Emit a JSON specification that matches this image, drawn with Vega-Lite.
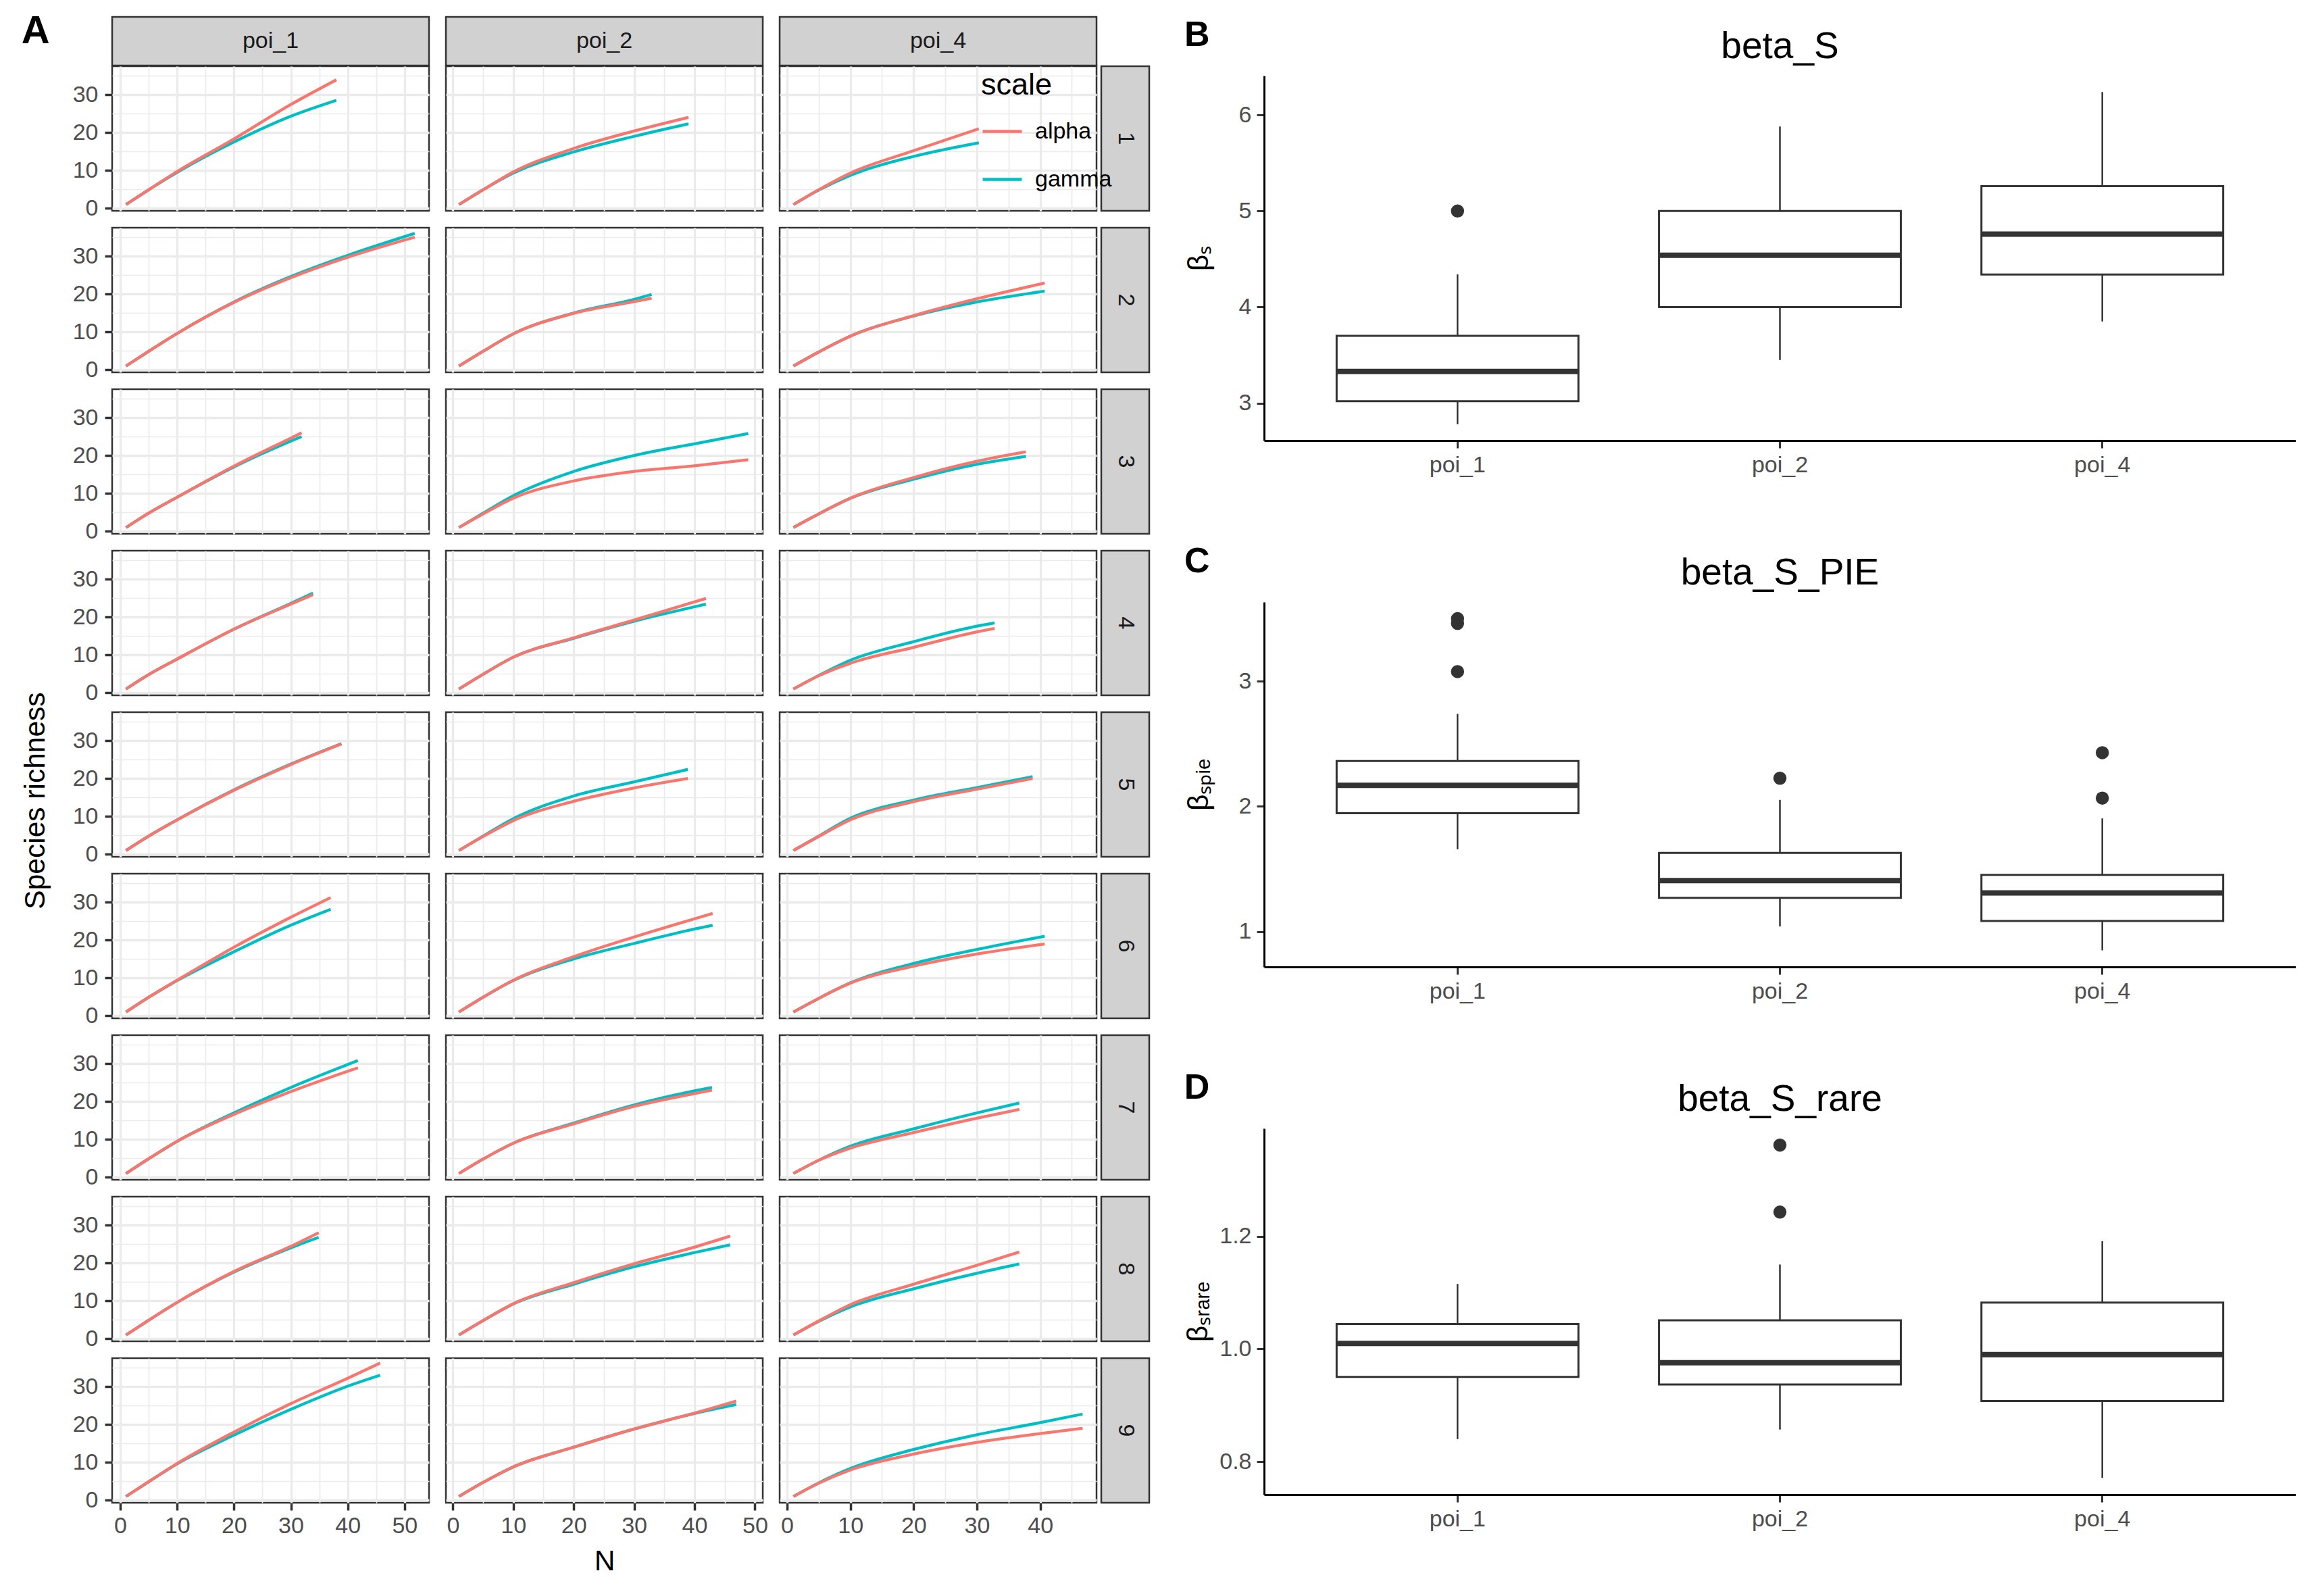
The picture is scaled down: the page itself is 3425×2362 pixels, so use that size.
{
"$schema": "https://vega.github.io/schema/vega-lite/v6.json",
"background": "white",
"padding": {"left": 31, "top": 17, "right": 0, "bottom": 0},
"config": {
  "font": "Liberation Sans",
  "view": {"stroke": null},
  "axis": {"labelFont": "Liberation Sans", "titleFont": "Liberation Sans", "labelFontSize": 34, "labelColor": "#4D4D4D", "tickColor": "#333333", "tickSize": 11, "tickWidth": 3, "titleFontSize": 42.5, "titleFontWeight": "normal", "titleColor": "black", "gridColor": "#EBEBEB", "domainColor": "black", "domainWidth": 3},
  "title": {"font": "Liberation Sans", "color": "black"}
},
"datasets": {
"curves": [
{"poi":"poi_1","row":1,"scale":"gamma","N":1,"S":1},{"poi":"poi_1","row":1,"scale":"gamma","N":5,"S":4.9},{"poi":"poi_1","row":1,"scale":"gamma","N":10,"S":9.5},{"poi":"poi_1","row":1,"scale":"gamma","N":20,"S":17.5},{"poi":"poi_1","row":1,"scale":"gamma","N":30,"S":24.3},{"poi":"poi_1","row":1,"scale":"gamma","N":38,"S":28.5},
{"poi":"poi_1","row":1,"scale":"alpha","N":1,"S":1},{"poi":"poi_1","row":1,"scale":"alpha","N":5,"S":4.9},{"poi":"poi_1","row":1,"scale":"alpha","N":10,"S":9.7},{"poi":"poi_1","row":1,"scale":"alpha","N":20,"S":18.3},{"poi":"poi_1","row":1,"scale":"alpha","N":30,"S":27.4},{"poi":"poi_1","row":1,"scale":"alpha","N":38,"S":33.9},
{"poi":"poi_2","row":1,"scale":"gamma","N":1,"S":1},{"poi":"poi_2","row":1,"scale":"gamma","N":5,"S":4.9},{"poi":"poi_2","row":1,"scale":"gamma","N":10,"S":9.3},{"poi":"poi_2","row":1,"scale":"gamma","N":20,"S":14.9},{"poi":"poi_2","row":1,"scale":"gamma","N":30,"S":19.0},{"poi":"poi_2","row":1,"scale":"gamma","N":39,"S":22.3},
{"poi":"poi_2","row":1,"scale":"alpha","N":1,"S":1},{"poi":"poi_2","row":1,"scale":"alpha","N":5,"S":4.9},{"poi":"poi_2","row":1,"scale":"alpha","N":10,"S":9.6},{"poi":"poi_2","row":1,"scale":"alpha","N":20,"S":15.8},{"poi":"poi_2","row":1,"scale":"alpha","N":30,"S":20.4},{"poi":"poi_2","row":1,"scale":"alpha","N":39,"S":24.0},
{"poi":"poi_4","row":1,"scale":"gamma","N":1,"S":1},{"poi":"poi_4","row":1,"scale":"gamma","N":5,"S":4.8},{"poi":"poi_4","row":1,"scale":"gamma","N":10,"S":8.7},{"poi":"poi_4","row":1,"scale":"gamma","N":20,"S":13.7},{"poi":"poi_4","row":1,"scale":"gamma","N":30.3,"S":17.3},
{"poi":"poi_4","row":1,"scale":"alpha","N":1,"S":1},{"poi":"poi_4","row":1,"scale":"alpha","N":5,"S":4.9},{"poi":"poi_4","row":1,"scale":"alpha","N":10,"S":9.3},{"poi":"poi_4","row":1,"scale":"alpha","N":20,"S":15.2},{"poi":"poi_4","row":1,"scale":"alpha","N":30.3,"S":21.0},

{"poi":"poi_1","row":2,"scale":"gamma","N":1,"S":1},{"poi":"poi_1","row":2,"scale":"gamma","N":5,"S":4.9},{"poi":"poi_1","row":2,"scale":"gamma","N":10,"S":9.6},{"poi":"poi_1","row":2,"scale":"gamma","N":20,"S":17.9},{"poi":"poi_1","row":2,"scale":"gamma","N":30,"S":24.6},{"poi":"poi_1","row":2,"scale":"gamma","N":40,"S":30.2},{"poi":"poi_1","row":2,"scale":"gamma","N":51.8,"S":36.0},
{"poi":"poi_1","row":2,"scale":"alpha","N":1,"S":1},{"poi":"poi_1","row":2,"scale":"alpha","N":5,"S":4.9},{"poi":"poi_1","row":2,"scale":"alpha","N":10,"S":9.6},{"poi":"poi_1","row":2,"scale":"alpha","N":20,"S":17.8},{"poi":"poi_1","row":2,"scale":"alpha","N":30,"S":24.3},{"poi":"poi_1","row":2,"scale":"alpha","N":40,"S":29.7},{"poi":"poi_1","row":2,"scale":"alpha","N":51.8,"S":35.0},
{"poi":"poi_2","row":2,"scale":"gamma","N":1,"S":1},{"poi":"poi_2","row":2,"scale":"gamma","N":5,"S":4.9},{"poi":"poi_2","row":2,"scale":"gamma","N":10,"S":9.5},{"poi":"poi_2","row":2,"scale":"gamma","N":20,"S":15.0},{"poi":"poi_2","row":2,"scale":"gamma","N":30,"S":18.6},{"poi":"poi_2","row":2,"scale":"gamma","N":32.9,"S":19.9},
{"poi":"poi_2","row":2,"scale":"alpha","N":1,"S":1},{"poi":"poi_2","row":2,"scale":"alpha","N":5,"S":4.9},{"poi":"poi_2","row":2,"scale":"alpha","N":10,"S":9.5},{"poi":"poi_2","row":2,"scale":"alpha","N":20,"S":14.9},{"poi":"poi_2","row":2,"scale":"alpha","N":30,"S":18.0},{"poi":"poi_2","row":2,"scale":"alpha","N":32.9,"S":18.9},
{"poi":"poi_4","row":2,"scale":"gamma","N":1,"S":1},{"poi":"poi_4","row":2,"scale":"gamma","N":5,"S":4.7},{"poi":"poi_4","row":2,"scale":"gamma","N":10,"S":8.9},{"poi":"poi_4","row":2,"scale":"gamma","N":20,"S":14.2},{"poi":"poi_4","row":2,"scale":"gamma","N":30,"S":17.9},{"poi":"poi_4","row":2,"scale":"gamma","N":40.7,"S":20.75},
{"poi":"poi_4","row":2,"scale":"alpha","N":1,"S":1},{"poi":"poi_4","row":2,"scale":"alpha","N":5,"S":4.7},{"poi":"poi_4","row":2,"scale":"alpha","N":10,"S":8.9},{"poi":"poi_4","row":2,"scale":"alpha","N":20,"S":14.3},{"poi":"poi_4","row":2,"scale":"alpha","N":30,"S":18.75},{"poi":"poi_4","row":2,"scale":"alpha","N":40.7,"S":22.9},

{"poi":"poi_1","row":3,"scale":"gamma","N":1,"S":1},{"poi":"poi_1","row":3,"scale":"gamma","N":5,"S":4.8},{"poi":"poi_1","row":3,"scale":"gamma","N":10,"S":9.0},{"poi":"poi_1","row":3,"scale":"gamma","N":20,"S":17.0},{"poi":"poi_1","row":3,"scale":"gamma","N":30,"S":23.8},{"poi":"poi_1","row":3,"scale":"gamma","N":31.9,"S":25.0},
{"poi":"poi_1","row":3,"scale":"alpha","N":1,"S":1},{"poi":"poi_1","row":3,"scale":"alpha","N":5,"S":4.8},{"poi":"poi_1","row":3,"scale":"alpha","N":10,"S":9.0},{"poi":"poi_1","row":3,"scale":"alpha","N":20,"S":17.2},{"poi":"poi_1","row":3,"scale":"alpha","N":30,"S":24.6},{"poi":"poi_1","row":3,"scale":"alpha","N":31.9,"S":26.0},
{"poi":"poi_2","row":3,"scale":"gamma","N":1,"S":1},{"poi":"poi_2","row":3,"scale":"gamma","N":5,"S":4.8},{"poi":"poi_2","row":3,"scale":"gamma","N":10,"S":9.4},{"poi":"poi_2","row":3,"scale":"gamma","N":20,"S":15.8},{"poi":"poi_2","row":3,"scale":"gamma","N":30,"S":20.0},{"poi":"poi_2","row":3,"scale":"gamma","N":40,"S":23.1},{"poi":"poi_2","row":3,"scale":"gamma","N":48.9,"S":25.8},
{"poi":"poi_2","row":3,"scale":"alpha","N":1,"S":1},{"poi":"poi_2","row":3,"scale":"alpha","N":5,"S":4.6},{"poi":"poi_2","row":3,"scale":"alpha","N":10,"S":8.75},{"poi":"poi_2","row":3,"scale":"alpha","N":20,"S":13.3},{"poi":"poi_2","row":3,"scale":"alpha","N":30,"S":15.8},{"poi":"poi_2","row":3,"scale":"alpha","N":40,"S":17.3},{"poi":"poi_2","row":3,"scale":"alpha","N":48.9,"S":18.9},
{"poi":"poi_4","row":3,"scale":"gamma","N":1,"S":1},{"poi":"poi_4","row":3,"scale":"gamma","N":5,"S":4.6},{"poi":"poi_4","row":3,"scale":"gamma","N":10,"S":8.7},{"poi":"poi_4","row":3,"scale":"gamma","N":20,"S":13.75},{"poi":"poi_4","row":3,"scale":"gamma","N":30,"S":17.7},{"poi":"poi_4","row":3,"scale":"gamma","N":37.75,"S":19.8},
{"poi":"poi_4","row":3,"scale":"alpha","N":1,"S":1},{"poi":"poi_4","row":3,"scale":"alpha","N":5,"S":4.6},{"poi":"poi_4","row":3,"scale":"alpha","N":10,"S":8.75},{"poi":"poi_4","row":3,"scale":"alpha","N":20,"S":14.2},{"poi":"poi_4","row":3,"scale":"alpha","N":30,"S":18.5},{"poi":"poi_4","row":3,"scale":"alpha","N":37.75,"S":21.0},

{"poi":"poi_1","row":4,"scale":"gamma","N":1,"S":1},{"poi":"poi_1","row":4,"scale":"gamma","N":5,"S":4.8},{"poi":"poi_1","row":4,"scale":"gamma","N":10,"S":8.9},{"poi":"poi_1","row":4,"scale":"gamma","N":20,"S":16.8},{"poi":"poi_1","row":4,"scale":"gamma","N":30,"S":23.6},{"poi":"poi_1","row":4,"scale":"gamma","N":33.9,"S":26.3},
{"poi":"poi_1","row":4,"scale":"alpha","N":1,"S":1},{"poi":"poi_1","row":4,"scale":"alpha","N":5,"S":4.8},{"poi":"poi_1","row":4,"scale":"alpha","N":10,"S":8.9},{"poi":"poi_1","row":4,"scale":"alpha","N":20,"S":16.8},{"poi":"poi_1","row":4,"scale":"alpha","N":30,"S":23.4},{"poi":"poi_1","row":4,"scale":"alpha","N":33.9,"S":25.9},
{"poi":"poi_2","row":4,"scale":"gamma","N":1,"S":1},{"poi":"poi_2","row":4,"scale":"gamma","N":5,"S":4.9},{"poi":"poi_2","row":4,"scale":"gamma","N":10,"S":9.4},{"poi":"poi_2","row":4,"scale":"gamma","N":20,"S":14.4},{"poi":"poi_2","row":4,"scale":"gamma","N":30,"S":18.9},{"poi":"poi_2","row":4,"scale":"gamma","N":40,"S":22.7},{"poi":"poi_2","row":4,"scale":"gamma","N":41.9,"S":23.4},
{"poi":"poi_2","row":4,"scale":"alpha","N":1,"S":1},{"poi":"poi_2","row":4,"scale":"alpha","N":5,"S":4.9},{"poi":"poi_2","row":4,"scale":"alpha","N":10,"S":9.4},{"poi":"poi_2","row":4,"scale":"alpha","N":20,"S":14.5},{"poi":"poi_2","row":4,"scale":"alpha","N":30,"S":19.2},{"poi":"poi_2","row":4,"scale":"alpha","N":40,"S":24.0},{"poi":"poi_2","row":4,"scale":"alpha","N":41.9,"S":24.9},
{"poi":"poi_4","row":4,"scale":"gamma","N":1,"S":1},{"poi":"poi_4","row":4,"scale":"gamma","N":5,"S":4.6},{"poi":"poi_4","row":4,"scale":"gamma","N":10,"S":8.6},{"poi":"poi_4","row":4,"scale":"gamma","N":20,"S":13.5},{"poi":"poi_4","row":4,"scale":"gamma","N":30,"S":17.6},{"poi":"poi_4","row":4,"scale":"gamma","N":32.8,"S":18.45},
{"poi":"poi_4","row":4,"scale":"alpha","N":1,"S":1},{"poi":"poi_4","row":4,"scale":"alpha","N":5,"S":4.5},{"poi":"poi_4","row":4,"scale":"alpha","N":10,"S":7.8},{"poi":"poi_4","row":4,"scale":"alpha","N":20,"S":12.0},{"poi":"poi_4","row":4,"scale":"alpha","N":30,"S":16.1},{"poi":"poi_4","row":4,"scale":"alpha","N":32.8,"S":17.0},

{"poi":"poi_1","row":5,"scale":"gamma","N":1,"S":1},{"poi":"poi_1","row":5,"scale":"gamma","N":5,"S":4.8},{"poi":"poi_1","row":5,"scale":"gamma","N":10,"S":9.1},{"poi":"poi_1","row":5,"scale":"gamma","N":20,"S":17.0},{"poi":"poi_1","row":5,"scale":"gamma","N":30,"S":23.8},{"poi":"poi_1","row":5,"scale":"gamma","N":38.9,"S":29.2},
{"poi":"poi_1","row":5,"scale":"alpha","N":1,"S":1},{"poi":"poi_1","row":5,"scale":"alpha","N":5,"S":4.8},{"poi":"poi_1","row":5,"scale":"alpha","N":10,"S":9.1},{"poi":"poi_1","row":5,"scale":"alpha","N":20,"S":16.9},{"poi":"poi_1","row":5,"scale":"alpha","N":30,"S":23.7},{"poi":"poi_1","row":5,"scale":"alpha","N":38.9,"S":29.1},
{"poi":"poi_2","row":5,"scale":"gamma","N":1,"S":1},{"poi":"poi_2","row":5,"scale":"gamma","N":5,"S":4.8},{"poi":"poi_2","row":5,"scale":"gamma","N":10,"S":9.4},{"poi":"poi_2","row":5,"scale":"gamma","N":20,"S":15.4},{"poi":"poi_2","row":5,"scale":"gamma","N":30,"S":19.1},{"poi":"poi_2","row":5,"scale":"gamma","N":38.9,"S":22.4},
{"poi":"poi_2","row":5,"scale":"alpha","N":1,"S":1},{"poi":"poi_2","row":5,"scale":"alpha","N":5,"S":4.7},{"poi":"poi_2","row":5,"scale":"alpha","N":10,"S":8.9},{"poi":"poi_2","row":5,"scale":"alpha","N":20,"S":14.0},{"poi":"poi_2","row":5,"scale":"alpha","N":30,"S":17.5},{"poi":"poi_2","row":5,"scale":"alpha","N":38.9,"S":20.0},
{"poi":"poi_4","row":5,"scale":"gamma","N":1,"S":1},{"poi":"poi_4","row":5,"scale":"gamma","N":5,"S":4.8},{"poi":"poi_4","row":5,"scale":"gamma","N":10,"S":9.5},{"poi":"poi_4","row":5,"scale":"gamma","N":20,"S":14.3},{"poi":"poi_4","row":5,"scale":"gamma","N":30,"S":17.6},{"poi":"poi_4","row":5,"scale":"gamma","N":38.8,"S":20.5},
{"poi":"poi_4","row":5,"scale":"alpha","N":1,"S":1},{"poi":"poi_4","row":5,"scale":"alpha","N":5,"S":4.7},{"poi":"poi_4","row":5,"scale":"alpha","N":10,"S":9.1},{"poi":"poi_4","row":5,"scale":"alpha","N":20,"S":13.9},{"poi":"poi_4","row":5,"scale":"alpha","N":30,"S":17.2},{"poi":"poi_4","row":5,"scale":"alpha","N":38.8,"S":20.0},

{"poi":"poi_1","row":6,"scale":"gamma","N":1,"S":1},{"poi":"poi_1","row":6,"scale":"gamma","N":5,"S":4.9},{"poi":"poi_1","row":6,"scale":"gamma","N":10,"S":9.3},{"poi":"poi_1","row":6,"scale":"gamma","N":20,"S":16.9},{"poi":"poi_1","row":6,"scale":"gamma","N":30,"S":23.9},{"poi":"poi_1","row":6,"scale":"gamma","N":37,"S":28.1},
{"poi":"poi_1","row":6,"scale":"alpha","N":1,"S":1},{"poi":"poi_1","row":6,"scale":"alpha","N":5,"S":4.9},{"poi":"poi_1","row":6,"scale":"alpha","N":10,"S":9.4},{"poi":"poi_1","row":6,"scale":"alpha","N":20,"S":18.1},{"poi":"poi_1","row":6,"scale":"alpha","N":30,"S":26.0},{"poi":"poi_1","row":6,"scale":"alpha","N":37,"S":31.2},
{"poi":"poi_2","row":6,"scale":"gamma","N":1,"S":1},{"poi":"poi_2","row":6,"scale":"gamma","N":5,"S":4.9},{"poi":"poi_2","row":6,"scale":"gamma","N":10,"S":9.3},{"poi":"poi_2","row":6,"scale":"gamma","N":20,"S":15.0},{"poi":"poi_2","row":6,"scale":"gamma","N":30,"S":19.1},{"poi":"poi_2","row":6,"scale":"gamma","N":40,"S":22.9},{"poi":"poi_2","row":6,"scale":"gamma","N":43,"S":23.9},
{"poi":"poi_2","row":6,"scale":"alpha","N":1,"S":1},{"poi":"poi_2","row":6,"scale":"alpha","N":5,"S":4.9},{"poi":"poi_2","row":6,"scale":"alpha","N":10,"S":9.4},{"poi":"poi_2","row":6,"scale":"alpha","N":20,"S":15.6},{"poi":"poi_2","row":6,"scale":"alpha","N":30,"S":20.8},{"poi":"poi_2","row":6,"scale":"alpha","N":40,"S":25.6},{"poi":"poi_2","row":6,"scale":"alpha","N":43,"S":27.0},
{"poi":"poi_4","row":6,"scale":"gamma","N":1,"S":1},{"poi":"poi_4","row":6,"scale":"gamma","N":5,"S":4.6},{"poi":"poi_4","row":6,"scale":"gamma","N":10,"S":8.7},{"poi":"poi_4","row":6,"scale":"gamma","N":20,"S":13.8},{"poi":"poi_4","row":6,"scale":"gamma","N":30,"S":17.5},{"poi":"poi_4","row":6,"scale":"gamma","N":40.7,"S":21.0},
{"poi":"poi_4","row":6,"scale":"alpha","N":1,"S":1},{"poi":"poi_4","row":6,"scale":"alpha","N":5,"S":4.6},{"poi":"poi_4","row":6,"scale":"alpha","N":10,"S":8.6},{"poi":"poi_4","row":6,"scale":"alpha","N":20,"S":13.1},{"poi":"poi_4","row":6,"scale":"alpha","N":30,"S":16.3},{"poi":"poi_4","row":6,"scale":"alpha","N":40.7,"S":18.95},

{"poi":"poi_1","row":7,"scale":"gamma","N":1,"S":1},{"poi":"poi_1","row":7,"scale":"gamma","N":5,"S":4.9},{"poi":"poi_1","row":7,"scale":"gamma","N":10,"S":9.5},{"poi":"poi_1","row":7,"scale":"gamma","N":20,"S":17.0},{"poi":"poi_1","row":7,"scale":"gamma","N":30,"S":23.7},{"poi":"poi_1","row":7,"scale":"gamma","N":41.8,"S":30.8},
{"poi":"poi_1","row":7,"scale":"alpha","N":1,"S":1},{"poi":"poi_1","row":7,"scale":"alpha","N":5,"S":4.9},{"poi":"poi_1","row":7,"scale":"alpha","N":10,"S":9.5},{"poi":"poi_1","row":7,"scale":"alpha","N":20,"S":16.6},{"poi":"poi_1","row":7,"scale":"alpha","N":30,"S":22.6},{"poi":"poi_1","row":7,"scale":"alpha","N":41.8,"S":28.9},
{"poi":"poi_2","row":7,"scale":"gamma","N":1,"S":1},{"poi":"poi_2","row":7,"scale":"gamma","N":5,"S":4.8},{"poi":"poi_2","row":7,"scale":"gamma","N":10,"S":9.0},{"poi":"poi_2","row":7,"scale":"gamma","N":20,"S":14.3},{"poi":"poi_2","row":7,"scale":"gamma","N":30,"S":19.1},{"poi":"poi_2","row":7,"scale":"gamma","N":40,"S":22.8},{"poi":"poi_2","row":7,"scale":"gamma","N":42.9,"S":23.7},
{"poi":"poi_2","row":7,"scale":"alpha","N":1,"S":1},{"poi":"poi_2","row":7,"scale":"alpha","N":5,"S":4.8},{"poi":"poi_2","row":7,"scale":"alpha","N":10,"S":9.0},{"poi":"poi_2","row":7,"scale":"alpha","N":20,"S":14.1},{"poi":"poi_2","row":7,"scale":"alpha","N":30,"S":18.7},{"poi":"poi_2","row":7,"scale":"alpha","N":40,"S":22.1},{"poi":"poi_2","row":7,"scale":"alpha","N":42.9,"S":23.0},
{"poi":"poi_4","row":7,"scale":"gamma","N":1,"S":1},{"poi":"poi_4","row":7,"scale":"gamma","N":5,"S":4.5},{"poi":"poi_4","row":7,"scale":"gamma","N":10,"S":8.2},{"poi":"poi_4","row":7,"scale":"gamma","N":20,"S":12.8},{"poi":"poi_4","row":7,"scale":"gamma","N":30,"S":17.0},{"poi":"poi_4","row":7,"scale":"gamma","N":36.7,"S":19.6},
{"poi":"poi_4","row":7,"scale":"alpha","N":1,"S":1},{"poi":"poi_4","row":7,"scale":"alpha","N":5,"S":4.5},{"poi":"poi_4","row":7,"scale":"alpha","N":10,"S":7.7},{"poi":"poi_4","row":7,"scale":"alpha","N":20,"S":11.8},{"poi":"poi_4","row":7,"scale":"alpha","N":30,"S":15.6},{"poi":"poi_4","row":7,"scale":"alpha","N":36.7,"S":17.9},

{"poi":"poi_1","row":8,"scale":"gamma","N":1,"S":1},{"poi":"poi_1","row":8,"scale":"gamma","N":5,"S":4.9},{"poi":"poi_1","row":8,"scale":"gamma","N":10,"S":9.6},{"poi":"poi_1","row":8,"scale":"gamma","N":20,"S":17.6},{"poi":"poi_1","row":8,"scale":"gamma","N":30,"S":24.0},{"poi":"poi_1","row":8,"scale":"gamma","N":34.9,"S":26.75},
{"poi":"poi_1","row":8,"scale":"alpha","N":1,"S":1},{"poi":"poi_1","row":8,"scale":"alpha","N":5,"S":4.9},{"poi":"poi_1","row":8,"scale":"alpha","N":10,"S":9.6},{"poi":"poi_1","row":8,"scale":"alpha","N":20,"S":17.75},{"poi":"poi_1","row":8,"scale":"alpha","N":30,"S":24.4},{"poi":"poi_1","row":8,"scale":"alpha","N":34.9,"S":28.0},
{"poi":"poi_2","row":8,"scale":"gamma","N":1,"S":1},{"poi":"poi_2","row":8,"scale":"gamma","N":5,"S":4.8},{"poi":"poi_2","row":8,"scale":"gamma","N":10,"S":9.2},{"poi":"poi_2","row":8,"scale":"gamma","N":20,"S":14.4},{"poi":"poi_2","row":8,"scale":"gamma","N":30,"S":19.0},{"poi":"poi_2","row":8,"scale":"gamma","N":40,"S":22.75},{"poi":"poi_2","row":8,"scale":"gamma","N":45.9,"S":24.8},
{"poi":"poi_2","row":8,"scale":"alpha","N":1,"S":1},{"poi":"poi_2","row":8,"scale":"alpha","N":5,"S":4.8},{"poi":"poi_2","row":8,"scale":"alpha","N":10,"S":9.25},{"poi":"poi_2","row":8,"scale":"alpha","N":20,"S":14.8},{"poi":"poi_2","row":8,"scale":"alpha","N":30,"S":19.8},{"poi":"poi_2","row":8,"scale":"alpha","N":40,"S":24.2},{"poi":"poi_2","row":8,"scale":"alpha","N":45.9,"S":27.1},
{"poi":"poi_4","row":8,"scale":"gamma","N":1,"S":1},{"poi":"poi_4","row":8,"scale":"gamma","N":5,"S":4.6},{"poi":"poi_4","row":8,"scale":"gamma","N":10,"S":8.4},{"poi":"poi_4","row":8,"scale":"gamma","N":20,"S":13.2},{"poi":"poi_4","row":8,"scale":"gamma","N":30,"S":17.3},{"poi":"poi_4","row":8,"scale":"gamma","N":36.7,"S":19.75},
{"poi":"poi_4","row":8,"scale":"alpha","N":1,"S":1},{"poi":"poi_4","row":8,"scale":"alpha","N":5,"S":4.7},{"poi":"poi_4","row":8,"scale":"alpha","N":10,"S":9.0},{"poi":"poi_4","row":8,"scale":"alpha","N":20,"S":14.4},{"poi":"poi_4","row":8,"scale":"alpha","N":30,"S":19.4},{"poi":"poi_4","row":8,"scale":"alpha","N":36.7,"S":22.9},

{"poi":"poi_1","row":9,"scale":"gamma","N":1,"S":1},{"poi":"poi_1","row":9,"scale":"gamma","N":5,"S":4.9},{"poi":"poi_1","row":9,"scale":"gamma","N":10,"S":9.6},{"poi":"poi_1","row":9,"scale":"gamma","N":20,"S":17.2},{"poi":"poi_1","row":9,"scale":"gamma","N":30,"S":24.0},{"poi":"poi_1","row":9,"scale":"gamma","N":40,"S":30.1},{"poi":"poi_1","row":9,"scale":"gamma","N":45.7,"S":33.0},
{"poi":"poi_1","row":9,"scale":"alpha","N":1,"S":1},{"poi":"poi_1","row":9,"scale":"alpha","N":5,"S":4.9},{"poi":"poi_1","row":9,"scale":"alpha","N":10,"S":9.7},{"poi":"poi_1","row":9,"scale":"alpha","N":20,"S":18.0},{"poi":"poi_1","row":9,"scale":"alpha","N":30,"S":25.5},{"poi":"poi_1","row":9,"scale":"alpha","N":40,"S":32.2},{"poi":"poi_1","row":9,"scale":"alpha","N":45.7,"S":36.2},
{"poi":"poi_2","row":9,"scale":"gamma","N":1,"S":1},{"poi":"poi_2","row":9,"scale":"gamma","N":5,"S":4.7},{"poi":"poi_2","row":9,"scale":"gamma","N":10,"S":8.8},{"poi":"poi_2","row":9,"scale":"gamma","N":20,"S":14.0},{"poi":"poi_2","row":9,"scale":"gamma","N":30,"S":18.8},{"poi":"poi_2","row":9,"scale":"gamma","N":40,"S":22.9},{"poi":"poi_2","row":9,"scale":"gamma","N":46.9,"S":25.25},
{"poi":"poi_2","row":9,"scale":"alpha","N":1,"S":1},{"poi":"poi_2","row":9,"scale":"alpha","N":5,"S":4.7},{"poi":"poi_2","row":9,"scale":"alpha","N":10,"S":8.8},{"poi":"poi_2","row":9,"scale":"alpha","N":20,"S":14.0},{"poi":"poi_2","row":9,"scale":"alpha","N":30,"S":18.8},{"poi":"poi_2","row":9,"scale":"alpha","N":40,"S":23.0},{"poi":"poi_2","row":9,"scale":"alpha","N":46.9,"S":26.2},
{"poi":"poi_4","row":9,"scale":"gamma","N":1,"S":1},{"poi":"poi_4","row":9,"scale":"gamma","N":5,"S":4.6},{"poi":"poi_4","row":9,"scale":"gamma","N":10,"S":8.4},{"poi":"poi_4","row":9,"scale":"gamma","N":20,"S":13.4},{"poi":"poi_4","row":9,"scale":"gamma","N":30,"S":17.3},{"poi":"poi_4","row":9,"scale":"gamma","N":40,"S":20.5},{"poi":"poi_4","row":9,"scale":"gamma","N":46.7,"S":22.75},
{"poi":"poi_4","row":9,"scale":"alpha","N":1,"S":1},{"poi":"poi_4","row":9,"scale":"alpha","N":5,"S":4.5},{"poi":"poi_4","row":9,"scale":"alpha","N":10,"S":8.0},{"poi":"poi_4","row":9,"scale":"alpha","N":20,"S":12.2},{"poi":"poi_4","row":9,"scale":"alpha","N":30,"S":15.3},{"poi":"poi_4","row":9,"scale":"alpha","N":40,"S":17.6},{"poi":"poi_4","row":9,"scale":"alpha","N":46.7,"S":19.0}
],
"boxes": [
{"metric":"beta_S","poi":"poi_1","lower":2.78,"q1":3.02,"median":3.33,"q3":3.70,"upper":4.34},
{"metric":"beta_S","poi":"poi_2","lower":3.45,"q1":4.00,"median":4.54,"q3":5.00,"upper":5.88},
{"metric":"beta_S","poi":"poi_4","lower":3.85,"q1":4.34,"median":4.76,"q3":5.26,"upper":6.24},
{"metric":"beta_S_PIE","poi":"poi_1","lower":1.657,"q1":1.945,"median":2.168,"q3":2.363,"upper":2.739},
{"metric":"beta_S_PIE","poi":"poi_2","lower":1.041,"q1":1.269,"median":1.407,"q3":1.629,"upper":2.052},
{"metric":"beta_S_PIE","poi":"poi_4","lower":0.85,"q1":1.085,"median":1.308,"q3":1.453,"upper":1.904},
{"metric":"beta_S_rare","poi":"poi_1","lower":0.840,"q1":0.9505,"median":1.0099,"q3":1.0442,"upper":1.1155},
{"metric":"beta_S_rare","poi":"poi_2","lower":0.857,"q1":0.937,"median":0.9756,"q3":1.0508,"upper":1.150},
{"metric":"beta_S_rare","poi":"poi_4","lower":0.771,"q1":0.9076,"median":0.990,"q3":1.0825,"upper":1.1914}
],
"outliers": [
{"metric":"beta_S","poi":"poi_1","value":5.0},
{"metric":"beta_S_PIE","poi":"poi_1","value":3.077},
{"metric":"beta_S_PIE","poi":"poi_1","value":3.462},
{"metric":"beta_S_PIE","poi":"poi_1","value":3.50},
{"metric":"beta_S_PIE","poi":"poi_2","value":2.225},
{"metric":"beta_S_PIE","poi":"poi_4","value":2.066},
{"metric":"beta_S_PIE","poi":"poi_4","value":2.429},
{"metric":"beta_S_rare","poi":"poi_2","value":1.243},
{"metric":"beta_S_rare","poi":"poi_2","value":1.362}
]
},
"concat": [
{
 "title": {"text": "A", "anchor": "start", "frame": "bounds", "fontSize": 58, "fontWeight": "bold", "offset": -52},
 "concat": [
  {"width": 469, "height": 72, "view": {"fill": "#D1D1D1", "stroke": "#333333", "strokeWidth": 2.5}, "data": {"values": [{"poi": "poi_1"}]}, "mark": {"type": "text", "fontSize": 34, "color": "#1A1A1A"}, "encoding": {"text": {"field": "poi", "type": "nominal"}}},
  {"width": 469, "height": 72, "view": {"fill": "#D1D1D1", "stroke": "#333333", "strokeWidth": 2.5}, "data": {"values": [{"poi": "poi_2"}]}, "mark": {"type": "text", "fontSize": 34, "color": "#1A1A1A"}, "encoding": {"text": {"field": "poi", "type": "nominal"}}},
  {"width": 469, "height": 72, "view": {"fill": "#D1D1D1", "stroke": "#333333", "strokeWidth": 2.5}, "data": {"values": [{"poi": "poi_4"}]}, "mark": {"type": "text", "fontSize": 34, "color": "#1A1A1A"}, "encoding": {"text": {"field": "poi", "type": "nominal"}}},
  {
   "data": {"name": "curves"},
   "transform": [{"filter": "datum.poi === 'poi_1'"}],
   "title": {"text": "Species richness", "orient": "left", "anchor": "middle", "fontSize": 42.5, "fontWeight": "normal", "offset": 33},
   "facet": {"row": {"field": "row", "type": "ordinal", "header": null}},
   "spacing": {"row": 25},
   "bounds": "flush",
   "spec": {
    "width": 469, "height": 214,
    "view": {"stroke": "#333333", "strokeWidth": 2.5},
    "mark": {"type": "line", "strokeWidth": 4.3, "interpolate": "monotone"},
    "encoding": {
     "x": {"field": "N", "type": "quantitative", "scale": {"domain": [-1.43, 54.3], "nice": false, "zero": false},
      "axis": {"title": null, "values": [0,5,10,15,20,25,30,35,40,45,50], "labelExpr": "datum.value % 10 === 0 ? datum.label : ''", "domain": false, "grid": true, "gridWidth": {"condition": {"test": "datum.value % 10 === 0", "value": 3.3}, "value": 1.7}, "tickOpacity": {"condition": {"test": "datum.value % 10 === 0", "value": 1}, "value": 0}, "tickWidth": 3.5, "labelPadding": 6, "labelFlush": false, "labelOverlap": false}},
     "y": {"field": "S", "type": "quantitative", "scale": {"domain": [-0.65, 37.5], "nice": false, "zero": false},
      "axis": {"title": null, "values": [0,5,10,15,20,25,30,35], "labelExpr": "datum.value % 10 === 0 ? datum.label : ''", "domain": false, "grid": true, "gridWidth": {"condition": {"test": "datum.value % 10 === 0", "value": 3.3}, "value": 1.7}, "tickOpacity": {"condition": {"test": "datum.value % 10 === 0", "value": 1}, "value": 0}, "tickWidth": 3.5, "labelPadding": 10, "labelOverlap": false}},
     "color": {"field": "scale", "type": "nominal", "scale": {"domain": ["alpha", "gamma"], "range": ["#F8766D", "#00BFC4"]},
      "legend": {"title": "scale", "orient": "none", "legendX": 1286, "legendY": 79, "titleFontSize": 45, "titleFontWeight": "normal", "titleColor": "black", "labelFontSize": 34, "labelColor": "black", "symbolType": "stroke", "symbolStrokeWidth": 4.5, "symbolSize": 3364, "rowPadding": 22, "titlePadding": 14, "labelOffset": 17, "padding": 0}}
    }
   }
  },
  {
   "data": {"name": "curves"},
   "transform": [{"filter": "datum.poi === 'poi_2'"}],
   "facet": {"row": {"field": "row", "type": "ordinal", "header": null}},
   "spacing": {"row": 25},
   "bounds": "flush",
   "spec": {
    "width": 469, "height": 214,
    "view": {"stroke": "#333333", "strokeWidth": 2.5},
    "mark": {"type": "line", "strokeWidth": 4.3, "interpolate": "monotone"},
    "encoding": {
     "x": {"field": "N", "type": "quantitative", "scale": {"domain": [-1.16, 51.3], "nice": false, "zero": false},
      "axis": {"title": "N", "titlePadding": 14, "values": [0,5,10,15,20,25,30,35,40,45,50], "labelExpr": "datum.value % 10 === 0 ? datum.label : ''", "domain": false, "grid": true, "gridWidth": {"condition": {"test": "datum.value % 10 === 0", "value": 3.3}, "value": 1.7}, "tickOpacity": {"condition": {"test": "datum.value % 10 === 0", "value": 1}, "value": 0}, "tickWidth": 3.5, "labelPadding": 6, "labelFlush": false, "labelOverlap": false}},
     "y": {"field": "S", "type": "quantitative", "scale": {"domain": [-0.65, 37.5], "nice": false, "zero": false},
      "axis": {"title": null, "values": [0,5,10,15,20,25,30,35], "labels": false, "ticks": false, "domain": false, "grid": true, "gridWidth": {"condition": {"test": "datum.value % 10 === 0", "value": 3.3}, "value": 1.7}}},
     "color": {"field": "scale", "type": "nominal", "scale": {"domain": ["alpha", "gamma"], "range": ["#F8766D", "#00BFC4"]}}
    }
   }
  },
  {
   "hconcat": [
    {
     "data": {"name": "curves"},
     "transform": [{"filter": "datum.poi === 'poi_4'"}],
     "facet": {"row": {"field": "row", "type": "ordinal", "header": null}},
     "spacing": {"row": 25},
     "bounds": "flush",
     "spec": {
      "width": 469, "height": 214,
      "view": {"stroke": "#333333", "strokeWidth": 2.5},
      "mark": {"type": "line", "strokeWidth": 4.3, "interpolate": "monotone"},
      "encoding": {
       "x": {"field": "N", "type": "quantitative", "scale": {"domain": [-1.17, 48.9], "nice": false, "zero": false},
        "axis": {"title": null, "values": [0,5,10,15,20,25,30,35,40,45], "labelExpr": "datum.value % 10 === 0 ? datum.label : ''", "domain": false, "grid": true, "gridWidth": {"condition": {"test": "datum.value % 10 === 0", "value": 3.3}, "value": 1.7}, "tickOpacity": {"condition": {"test": "datum.value % 10 === 0", "value": 1}, "value": 0}, "tickWidth": 3.5, "labelPadding": 6, "labelFlush": false, "labelOverlap": false}},
       "y": {"field": "S", "type": "quantitative", "scale": {"domain": [-0.65, 37.5], "nice": false, "zero": false},
        "axis": {"title": null, "values": [0,5,10,15,20,25,30,35], "labels": false, "ticks": false, "domain": false, "grid": true, "gridWidth": {"condition": {"test": "datum.value % 10 === 0", "value": 3.3}, "value": 1.7}}},
       "color": {"field": "scale", "type": "nominal", "scale": {"domain": ["alpha", "gamma"], "range": ["#F8766D", "#00BFC4"]}}
      }
     }
    },
    {
     "width": 71, "height": 2126,
     "data": {"values": [{"row": 1}, {"row": 2}, {"row": 3}, {"row": 4}, {"row": 5}, {"row": 6}, {"row": 7}, {"row": 8}, {"row": 9}]},
     "encoding": {"y": {"field": "row", "type": "ordinal", "scale": {"paddingInner": 0.1046, "paddingOuter": 0}, "axis": null}},
     "layer": [
      {"mark": {"type": "rect", "fill": "#D1D1D1", "stroke": "#333333", "strokeWidth": 2.5}},
      {"mark": {"type": "text", "angle": 90, "fontSize": 34, "color": "#1A1A1A"}, "encoding": {"text": {"field": "row", "type": "ordinal"}}}
     ]
    }
   ],
   "spacing": 3
  }
 ],
 "columns": 3,
 "align": "each",
 "bounds": "flush",
 "spacing": {"row": 1, "column": 25}
},
{
 "concat": [
  {
   "title": {"text": "B", "anchor": "start", "frame": "bounds", "fontSize": 52, "fontWeight": "bold", "offset": -54},
   "vconcat": [
    {"width": 1527, "height": 61, "data": {"values": [{"label": "beta_S"}]}, "mark": {"type": "text", "fontSize": 55, "baseline": "alphabetic", "color": "black"}, "encoding": {"text": {"field": "label", "type": "nominal"}, "y": {"value": "height"}}},
    {
    "width": 1527, "height": 540,
    "data": {"name": "boxes"},
    "transform": [{"filter": "datum.metric === 'beta_S'"}],
    "encoding": {"x": {"field": "poi", "type": "nominal", "scale": {"type": "band", "paddingInner": 0.25, "paddingOuter": 0.225}, "axis": {"title": null, "labelAngle": 0, "labelPadding": 8, "grid": false}}},
    "layer": [
     {"mark": {"type": "rule", "color": "#333333", "strokeWidth": 2.5}, "encoding": {"y": {"field": "lower", "type": "quantitative", "title": "βₛ", "scale": {"domain": [2.61, 6.41], "nice": false, "zero": false}, "axis": {"values": [3, 4, 5, 6], "format": "d", "grid": false, "titlePadding": 37, "labelPadding": 8}}, "y2": {"field": "upper"}}},
     {"mark": {"type": "bar", "fill": "white", "stroke": "#333333", "strokeWidth": 3}, "encoding": {"y": {"field": "q1", "type": "quantitative", "title": "βₛ"}, "y2": {"field": "q3"}}},
     {"mark": {"type": "tick", "color": "#333333", "thickness": 8, "opacity": 1}, "encoding": {"y": {"field": "median", "type": "quantitative", "title": "βₛ"}}},
     {"data": {"name": "outliers"}, "transform": [{"filter": "datum.metric === 'beta_S'"}], "mark": {"type": "point", "filled": true, "size": 380, "color": "#333333", "opacity": 1}, "encoding": {"y": {"field": "value", "type": "quantitative", "title": "βₛ"}}}
    ]
    }
   ],
   "spacing": 15
  },
  {
   "title": {"text": "C", "anchor": "start", "frame": "bounds", "fontSize": 52, "fontWeight": "bold", "offset": -54},
   "vconcat": [
    {"width": 1527, "height": 61, "data": {"values": [{"label": "beta_S_PIE"}]}, "mark": {"type": "text", "fontSize": 55, "baseline": "alphabetic", "color": "black"}, "encoding": {"text": {"field": "label", "type": "nominal"}, "y": {"value": "height"}}},
    {
    "width": 1527, "height": 540,
    "data": {"name": "boxes"},
    "transform": [{"filter": "datum.metric === 'beta_S_PIE'"}],
    "encoding": {"x": {"field": "poi", "type": "nominal", "scale": {"type": "band", "paddingInner": 0.25, "paddingOuter": 0.225}, "axis": {"title": null, "labelAngle": 0, "labelPadding": 8, "grid": false}}},
    "layer": [
     {"mark": {"type": "rule", "color": "#333333", "strokeWidth": 2.5}, "encoding": {"y": {"field": "lower", "type": "quantitative", "title": "βₛₚᵢₑ", "scale": {"domain": [0.7175, 3.6325], "nice": false, "zero": false}, "axis": {"values": [1, 2, 3], "format": "d", "grid": false, "titlePadding": 37, "labelPadding": 8}}, "y2": {"field": "upper"}}},
     {"mark": {"type": "bar", "fill": "white", "stroke": "#333333", "strokeWidth": 3}, "encoding": {"y": {"field": "q1", "type": "quantitative", "title": "βₛₚᵢₑ"}, "y2": {"field": "q3"}}},
     {"mark": {"type": "tick", "color": "#333333", "thickness": 8, "opacity": 1}, "encoding": {"y": {"field": "median", "type": "quantitative", "title": "βₛₚᵢₑ"}}},
     {"data": {"name": "outliers"}, "transform": [{"filter": "datum.metric === 'beta_S_PIE'"}], "mark": {"type": "point", "filled": true, "size": 380, "color": "#333333", "opacity": 1}, "encoding": {"y": {"field": "value", "type": "quantitative", "title": "βₛₚᵢₑ"}}}
    ]
    }
   ],
   "spacing": 15
  },
  {
   "title": {"text": "D", "anchor": "start", "frame": "bounds", "fontSize": 52, "fontWeight": "bold", "offset": -54},
   "vconcat": [
    {"width": 1527, "height": 61, "data": {"values": [{"label": "beta_S_rare"}]}, "mark": {"type": "text", "fontSize": 55, "baseline": "alphabetic", "color": "black"}, "encoding": {"text": {"field": "label", "type": "nominal"}, "y": {"value": "height"}}},
    {
    "width": 1527, "height": 542,
    "data": {"name": "boxes"},
    "transform": [{"filter": "datum.metric === 'beta_S_rare'"}],
    "encoding": {"x": {"field": "poi", "type": "nominal", "scale": {"type": "band", "paddingInner": 0.25, "paddingOuter": 0.225}, "axis": {"title": null, "labelAngle": 0, "labelPadding": 8, "grid": false}}},
    "layer": [
     {"mark": {"type": "rule", "color": "#333333", "strokeWidth": 2.5}, "encoding": {"y": {"field": "lower", "type": "quantitative", "title": "βₛᵣₐᵣₑ", "scale": {"domain": [0.7414, 1.3916], "nice": false, "zero": false}, "axis": {"values": [0.8, 1.0, 1.2], "format": ".1f", "grid": false, "titlePadding": 9, "labelPadding": 8}}, "y2": {"field": "upper"}}},
     {"mark": {"type": "bar", "fill": "white", "stroke": "#333333", "strokeWidth": 3}, "encoding": {"y": {"field": "q1", "type": "quantitative", "title": "βₛᵣₐᵣₑ"}, "y2": {"field": "q3"}}},
     {"mark": {"type": "tick", "color": "#333333", "thickness": 8, "opacity": 1}, "encoding": {"y": {"field": "median", "type": "quantitative", "title": "βₛᵣₐᵣₑ"}}},
     {"data": {"name": "outliers"}, "transform": [{"filter": "datum.metric === 'beta_S_rare'"}], "mark": {"type": "point", "filled": true, "size": 380, "color": "#333333", "opacity": 1}, "encoding": {"y": {"field": "value", "type": "quantitative", "title": "βₛᵣₐᵣₑ"}}}
    ]
    }
   ],
   "spacing": 15
  }
 ],
 "columns": 1,
 "align": "none",
 "spacing": 99
}
],
"columns": 2,
"align": "none",
"spacing": 49
}
